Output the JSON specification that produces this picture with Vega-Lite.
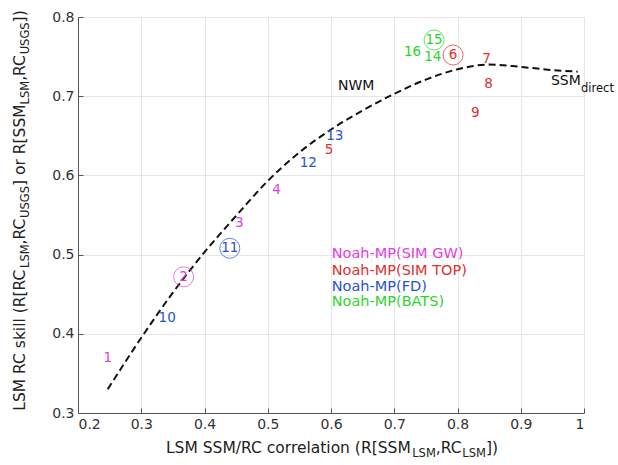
{
  "$schema": "https://vega.github.io/schema/vega-lite/v6.json",
  "width": 506,
  "height": 396,
  "autosize": {"type": "none"},
  "padding": {"left": 78, "top": 17, "right": 34, "bottom": 52},
  "config": {
    "view": {"stroke": null},
    "font": "DejaVu Sans",
    "axis": {
      "grid": true,
      "gridColor": "#e6e6e6",
      "gridWidth": 1,
      "domainColor": "#555555",
      "tickColor": "#555555",
      "tickSize": -5,
      "labelPadding": 9,
      "labelFontSize": 14,
      "labelColor": "#333333",
      "labelFont": "DejaVu Sans",
      "title": null
    }
  },
  "datasets": {
    "curve": [
      {"x": 0.247, "y": 0.330},
      {"x": 0.30, "y": 0.395},
      {"x": 0.35, "y": 0.452},
      {"x": 0.40, "y": 0.503},
      {"x": 0.45, "y": 0.549},
      {"x": 0.50, "y": 0.593},
      {"x": 0.55, "y": 0.629},
      {"x": 0.60, "y": 0.658},
      {"x": 0.65, "y": 0.682},
      {"x": 0.70, "y": 0.703},
      {"x": 0.75, "y": 0.721},
      {"x": 0.80, "y": 0.734},
      {"x": 0.85, "y": 0.740},
      {"x": 0.90, "y": 0.737},
      {"x": 0.95, "y": 0.733},
      {"x": 0.99, "y": 0.731}
    ],
    "pts": [
      {"n": "1", "x": 0.247, "y": 0.370, "g": "SIM GW", "c": 0},
      {"n": "2", "x": 0.367, "y": 0.472, "g": "SIM GW", "c": 1},
      {"n": "3", "x": 0.455, "y": 0.540, "g": "SIM GW", "c": 0},
      {"n": "4", "x": 0.514, "y": 0.582, "g": "SIM GW", "c": 0},
      {"n": "5", "x": 0.597, "y": 0.632, "g": "SIM TOP", "c": 0},
      {"n": "6", "x": 0.793, "y": 0.752, "g": "SIM TOP", "c": 1},
      {"n": "7", "x": 0.846, "y": 0.747, "g": "SIM TOP", "c": 0},
      {"n": "8", "x": 0.849, "y": 0.716, "g": "SIM TOP", "c": 0},
      {"n": "9", "x": 0.828, "y": 0.679, "g": "SIM TOP", "c": 0},
      {"n": "10", "x": 0.341, "y": 0.420, "g": "FD", "c": 0},
      {"n": "11", "x": 0.440, "y": 0.508, "g": "FD", "c": 1},
      {"n": "12", "x": 0.564, "y": 0.616, "g": "FD", "c": 0},
      {"n": "13", "x": 0.606, "y": 0.650, "g": "FD", "c": 0},
      {"n": "14", "x": 0.761, "y": 0.749, "g": "BATS", "c": 0},
      {"n": "15", "x": 0.763, "y": 0.771, "g": "BATS", "c": 1},
      {"n": "16", "x": 0.729, "y": 0.756, "g": "BATS", "c": 0}
    ],
    "legend": [
      {"t": "Noah-MP(SIM GW)", "g": "SIM GW", "x": 0.6011, "y": 0.5008},
      {"t": "Noah-MP(SIM TOP)", "g": "SIM TOP", "x": 0.6011, "y": 0.4797},
      {"t": "Noah-MP(FD)", "g": "FD", "x": 0.6011, "y": 0.4595},
      {"t": "Noah-MP(BATS)", "g": "BATS", "x": 0.6011, "y": 0.4405}
    ],
    "ann": [
      {"t": "NWM", "x": 0.6111, "y": 0.7129},
      {"t": "SSM", "x": 0.9478, "y": 0.7196}
    ],
    "annsub": [
      {"t": "direct", "x": 0.9953, "y": 0.7091}
    ],
    "xt": [
      {"t": "LSM SSM/RC correlation (R[SSM", "x": 0.3391},
      {"t": ",RC", "x": 0.7657},
      {"t": "])", "x": 0.8449}
    ],
    "xts": [
      {"t": "LSM", "x": 0.7284},
      {"t": "LSM", "x": 0.8076}
    ],
    "yt": [
      {"t": "LSM RC skill (R[RC", "y": 0.3029},
      {"t": ",RC", "y": 0.51288},
      {"t": "] or R[SSM", "y": 0.58662},
      {"t": ",RC", "y": 0.71944},
      {"t": "])", "y": 0.79318}
    ],
    "yts": [
      {"t": "LSM", "y": 0.48308},
      {"t": "USGS", "y": 0.54634},
      {"t": "LSM", "y": 0.68965},
      {"t": "USGS", "y": 0.75290}
    ]
  },
  "layer": [
    {
      "data": {"name": "curve"},
      "mark": {"type": "line", "strokeDash": [7, 4], "strokeWidth": 2, "color": "#111111", "interpolate": "monotone"},
      "encoding": {
        "x": {"field": "x", "type": "quantitative",
              "scale": {"domain": [0.2, 1], "nice": false, "zero": false},
              "axis": {"values": [0.2, 0.3, 0.4, 0.5, 0.6, 0.7, 0.8, 0.9, 1], "format": ".1~f"}},
        "y": {"field": "y", "type": "quantitative",
              "scale": {"domain": [0.3, 0.8], "nice": false, "zero": false},
              "axis": {"values": [0.3, 0.35, 0.4, 0.45, 0.5, 0.55, 0.6, 0.65, 0.7, 0.75, 0.8], "format": ".2~f"}}
      }
    },
    {
      "data": {"name": "pts"},
      "transform": [{"filter": "datum.c == 1"}],
      "mark": {"type": "point", "shape": "circle", "size": 400, "filled": false, "strokeWidth": 1},
      "encoding": {
        "x": {"field": "x", "type": "quantitative", "scale": {"domain": [0.2, 1], "nice": false, "zero": false}},
        "y": {"field": "y", "type": "quantitative", "scale": {"domain": [0.3, 0.8], "nice": false, "zero": false}},
        "color": {"field": "g", "type": "nominal",
                  "scale": {"domain": ["SIM GW", "SIM TOP", "FD", "BATS"], "range": ["#e040e0", "#e0302e", "#2a52d0", "#2ed42e"]},
                  "legend": null}
      }
    },
    {
      "data": {"name": "pts"},
      "mark": {"type": "text", "fontSize": 13.5, "align": "center", "baseline": "middle"},
      "encoding": {
        "x": {"field": "x", "type": "quantitative", "scale": {"domain": [0.2, 1], "nice": false, "zero": false}},
        "y": {"field": "y", "type": "quantitative", "scale": {"domain": [0.3, 0.8], "nice": false, "zero": false}},
        "text": {"field": "n"},
        "color": {"field": "g", "type": "nominal",
                  "scale": {"domain": ["SIM GW", "SIM TOP", "FD", "BATS"], "range": ["#e040e0", "#e0302e", "#2a52d0", "#2ed42e"]},
                  "legend": null}
      }
    },
    {
      "data": {"name": "legend"},
      "mark": {"type": "text", "fontSize": 14.5, "align": "left", "baseline": "middle"},
      "encoding": {
        "x": {"field": "x", "type": "quantitative", "scale": {"domain": [0.2, 1], "nice": false, "zero": false}},
        "y": {"field": "y", "type": "quantitative", "scale": {"domain": [0.3, 0.8], "nice": false, "zero": false}},
        "text": {"field": "t"},
        "color": {"field": "g", "type": "nominal",
                  "scale": {"domain": ["SIM GW", "SIM TOP", "FD", "BATS"], "range": ["#e040e0", "#e0302e", "#2a52d0", "#2ed42e"]},
                  "legend": null}
      }
    },
    {
      "data": {"name": "ann"},
      "mark": {"type": "text", "fontSize": 14, "align": "left", "baseline": "middle", "color": "#111111"},
      "encoding": {
        "x": {"field": "x", "type": "quantitative", "scale": {"domain": [0.2, 1], "nice": false, "zero": false}},
        "y": {"field": "y", "type": "quantitative", "scale": {"domain": [0.3, 0.8], "nice": false, "zero": false}},
        "text": {"field": "t"}
      }
    },
    {
      "data": {"name": "annsub"},
      "mark": {"type": "text", "fontSize": 11.5, "align": "left", "baseline": "middle", "color": "#111111"},
      "encoding": {
        "x": {"field": "x", "type": "quantitative", "scale": {"domain": [0.2, 1], "nice": false, "zero": false}},
        "y": {"field": "y", "type": "quantitative", "scale": {"domain": [0.3, 0.8], "nice": false, "zero": false}},
        "text": {"field": "t"}
      }
    },
    {
      "data": {"name": "xt"},
      "mark": {"type": "text", "fontSize": 15.5, "align": "left", "baseline": "middle", "dy": 35, "color": "#222222"},
      "encoding": {
        "x": {"field": "x", "type": "quantitative", "scale": {"domain": [0.2, 1], "nice": false, "zero": false}},
        "y": {"datum": 0.3, "type": "quantitative", "scale": {"domain": [0.3, 0.8], "nice": false, "zero": false}},
        "text": {"field": "t"}
      }
    },
    {
      "data": {"name": "xts"},
      "mark": {"type": "text", "fontSize": 11.5, "align": "left", "baseline": "middle", "dy": 41, "color": "#222222"},
      "encoding": {
        "x": {"field": "x", "type": "quantitative", "scale": {"domain": [0.2, 1], "nice": false, "zero": false}},
        "y": {"datum": 0.3, "type": "quantitative", "scale": {"domain": [0.3, 0.8], "nice": false, "zero": false}},
        "text": {"field": "t"}
      }
    },
    {
      "data": {"name": "yt"},
      "mark": {"type": "text", "fontSize": 15.5, "align": "left", "baseline": "middle", "angle": 270, "dy": -58, "color": "#222222"},
      "encoding": {
        "x": {"datum": 0.2, "type": "quantitative", "scale": {"domain": [0.2, 1], "nice": false, "zero": false}},
        "y": {"field": "y", "type": "quantitative", "scale": {"domain": [0.3, 0.8], "nice": false, "zero": false}},
        "text": {"field": "t"}
      }
    },
    {
      "data": {"name": "yts"},
      "mark": {"type": "text", "fontSize": 11.5, "align": "left", "baseline": "middle", "angle": 270, "dy": -52, "color": "#222222"},
      "encoding": {
        "x": {"datum": 0.2, "type": "quantitative", "scale": {"domain": [0.2, 1], "nice": false, "zero": false}},
        "y": {"field": "y", "type": "quantitative", "scale": {"domain": [0.3, 0.8], "nice": false, "zero": false}},
        "text": {"field": "t"}
      }
    }
  ]
}
